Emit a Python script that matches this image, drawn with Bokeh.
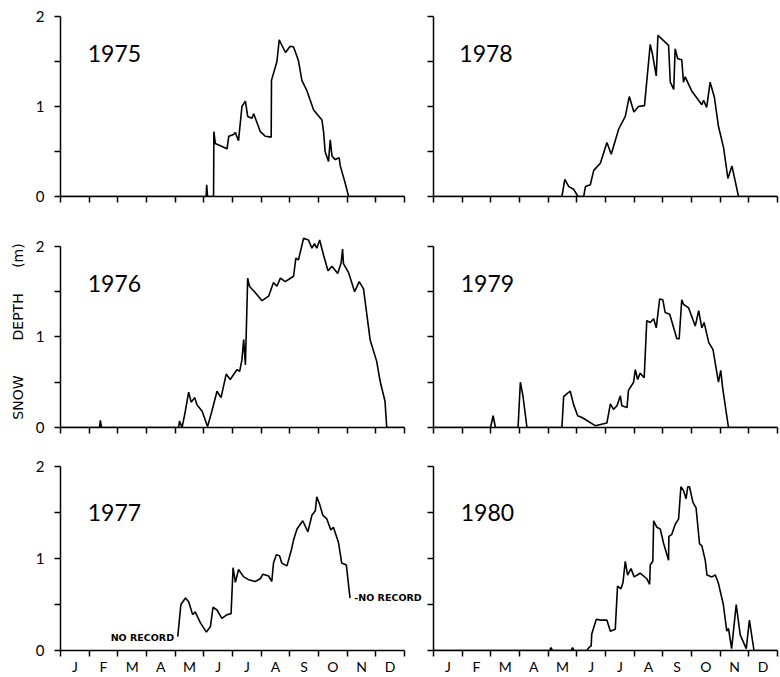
from bokeh.plotting import figure
from bokeh.layouts import column, row
from bokeh.models import Range1d, FixedTicker, CustomJSTickFormatter, Label, LinearAxis
from bokeh.embed import file_html
from bokeh.resources import INLINE

# ---------------- data ----------------
month_labels = ["J", "F", "M", "A", "M", "J", "J", "A", "S", "O", "N", "D"]
month_edges = list(range(13))
month_centres = [i + 0.5 for i in range(12)]
depth_ticks = [0, 1, 2]
depth_all_ticks = [0, 0.5, 1, 1.5, 2]
y_label = "SNOW\u2003\u2003\u2002DEPTH\u2003\u2002 (m)"
no_record = "NO RECORD"

years = ["1975", "1976", "1977", "1978", "1979", "1980"]

# (month, snow depth m) pairs, month counted from 1 January
snow_1975 = [(0, 0), (5.08, 0), (5.10, 0.13), (5.13, 0), (5.34, 0), (5.35, 0.72), (5.40, 0.59),
             (5.81, 0.53), (5.87, 0.67), (6.04, 0.69), (6.10, 0.71), (6.21, 0.62), (6.33, 1.0),
             (6.45, 1.06), (6.53, 0.89), (6.68, 0.87), (6.74, 0.92), (6.97, 0.72), (7.14, 0.67),
             (7.35, 0.66), (7.36, 1.29), (7.55, 1.5), (7.63, 1.74), (7.69, 1.70), (7.85, 1.60),
             (8.01, 1.67), (8.13, 1.66), (8.30, 1.51), (8.42, 1.29), (8.59, 1.18), (8.83, 0.96),
             (9.12, 0.85), (9.18, 0.71), (9.23, 0.50), (9.35, 0.39), (9.41, 0.63), (9.47, 0.45),
             (9.58, 0.41), (9.72, 0.43), (9.76, 0.34), (9.93, 0.15), (10.05, 0), (12, 0)]

snow_1976 = [(0, 0), (1.36, 0), (1.39, 0.08), (1.43, 0), (4.12, 0), (4.15, 0.07), (4.24, 0),
             (4.33, 0.14), (4.47, 0.39), (4.56, 0.28), (4.68, 0.33), (4.76, 0.25), (4.94, 0.18),
             (5.13, 0.01), (5.28, 0.18), (5.46, 0.40), (5.60, 0.33), (5.78, 0.59), (5.92, 0.53),
             (6.16, 0.64), (6.25, 0.62), (6.33, 0.75), (6.39, 0.97), (6.45, 0.69), (6.53, 1.65),
             (6.59, 1.56), (6.79, 1.49), (7.03, 1.40), (7.26, 1.45), (7.43, 1.60), (7.55, 1.56),
             (7.67, 1.65), (7.84, 1.61), (8.13, 1.67), (8.21, 1.87), (8.30, 1.85), (8.48, 2.09),
             (8.65, 2.07), (8.77, 1.98), (8.86, 2.03), (8.94, 1.98), (9.04, 2.07), (9.18, 1.90),
             (9.33, 1.73), (9.47, 1.78), (9.67, 1.70), (9.79, 1.82), (9.84, 1.97), (9.87, 1.81),
             (10.05, 1.71), (10.26, 1.50), (10.42, 1.61), (10.57, 1.53), (10.80, 0.97),
             (11.03, 0.73), (11.15, 0.51), (11.32, 0.29), (11.38, 0), (12, 0)]

snow_1977 = [(4.09, 0.15), (4.20, 0.50), (4.36, 0.57), (4.47, 0.53), (4.61, 0.39), (4.70, 0.42),
             (4.88, 0.30), (5.09, 0.20), (5.23, 0.26), (5.32, 0.47), (5.46, 0.44), (5.63, 0.35),
             (5.81, 0.39), (5.95, 0.40), (6.02, 0.90), (6.10, 0.74), (6.21, 0.88), (6.39, 0.80),
             (6.56, 0.77), (6.79, 0.75), (6.97, 0.78), (7.06, 0.83), (7.26, 0.81), (7.37, 0.75),
             (7.43, 0.95), (7.53, 1.04), (7.64, 1.03), (7.72, 0.95), (7.90, 0.92), (8.05, 1.09),
             (8.13, 1.20), (8.25, 1.32), (8.45, 1.41), (8.63, 1.29), (8.77, 1.47), (8.89, 1.52),
             (8.94, 1.67), (9.04, 1.59), (9.15, 1.47), (9.29, 1.43), (9.43, 1.31), (9.52, 1.34),
             (9.70, 1.17), (9.81, 0.95), (9.97, 0.93), (10.10, 0.57)]

snow_1978 = [(0, 0), (4.48, 0), (4.58, 0.19), (4.72, 0.11), (4.89, 0.08), (5.04, 0), (5.24, 0),
             (5.30, 0.11), (5.47, 0.13), (5.59, 0.29), (5.82, 0.37), (6.05, 0.60), (6.20, 0.47),
             (6.46, 0.75), (6.69, 0.89), (6.83, 1.11), (6.99, 0.94), (7.15, 1.00), (7.36, 1.01),
             (7.56, 1.69), (7.64, 1.58), (7.77, 1.34), (7.83, 1.79), (8.20, 1.68), (8.26, 1.27),
             (8.38, 1.19), (8.43, 1.64), (8.52, 1.53), (8.66, 1.52), (8.72, 1.27), (8.78, 1.33),
             (9.01, 1.17), (9.13, 1.12), (9.36, 1.02), (9.42, 1.07), (9.53, 0.99), (9.65, 1.27),
             (9.80, 1.10), (9.94, 0.78), (10.12, 0.54), (10.27, 0.20), (10.41, 0.34),
             (10.64, 0), (12, 0)]

snow_1979 = [(0, 0), (1.99, 0), (2.08, 0.13), (2.16, 0), (2.95, 0), (3.03, 0.50), (3.12, 0.35),
             (3.26, 0), (4.48, 0), (4.54, 0.34), (4.68, 0.38), (4.77, 0.40), (4.89, 0.25),
             (5.03, 0.13), (5.18, 0.11), (5.64, 0.02), (6.05, 0.05), (6.17, 0.26), (6.28, 0.20),
             (6.40, 0.24), (6.52, 0.35), (6.57, 0.24), (6.75, 0.22), (6.80, 0.41), (6.98, 0.50),
             (7.04, 0.64), (7.12, 0.53), (7.21, 0.60), (7.35, 0.55), (7.44, 1.18), (7.56, 1.16),
             (7.68, 1.20), (7.77, 1.10), (7.89, 1.42), (8.00, 1.41), (8.08, 1.27), (8.24, 1.25),
             (8.49, 0.98), (8.57, 0.98), (8.66, 1.41), (8.72, 1.36), (8.90, 1.32), (9.13, 1.12),
             (9.25, 1.29), (9.36, 1.10), (9.44, 1.16), (9.60, 0.94), (9.75, 0.86), (9.94, 0.50),
             (10.02, 0.63), (10.09, 0.43), (10.29, 0), (12, 0)]

snow_1980 = [(0, 0), (4.05, 0), (4.10, 0.03), (4.15, 0), (4.80, 0), (4.85, 0.03), (4.90, 0),
             (5.35, 0), (5.42, 0.03), (5.50, 0.05), (5.52, 0.18), (5.68, 0.34), (5.82, 0.33),
             (6.05, 0.33), (6.17, 0.21), (6.34, 0.23), (6.42, 0.70), (6.54, 0.67), (6.61, 0.74),
             (6.69, 0.97), (6.77, 0.82), (6.89, 0.89), (7.00, 0.80), (7.21, 0.84), (7.44, 0.78),
             (7.54, 0.72), (7.56, 0.93), (7.65, 0.97), (7.68, 1.41), (7.79, 1.34), (7.91, 1.32),
             (8.03, 1.16), (8.20, 0.98), (8.21, 1.24), (8.31, 1.26), (8.43, 1.37), (8.55, 1.43),
             (8.63, 1.78), (8.72, 1.74), (8.81, 1.65), (8.87, 1.78), (8.93, 1.78), (9.05, 1.61),
             (9.16, 1.55), (9.28, 1.16), (9.36, 1.14), (9.48, 0.98), (9.54, 0.82), (9.71, 0.80),
             (9.83, 0.82), (9.94, 0.73), (10.11, 0.50), (10.23, 0.21), (10.29, 0.24),
             (10.40, 0.02), (10.56, 0.50), (10.70, 0.17), (10.91, 0.02), (11.02, 0.33),
             (11.18, 0), (12, 0)]

series = {"1975": snow_1975, "1976": snow_1976, "1977": snow_1977,
          "1978": snow_1978, "1979": snow_1979, "1980": snow_1980}

# ---------------- layout ----------------
FONT = "Lato"
# column: (left border, frame width, right border, x max)
COL_SPECS = [(60, 366, 0, 12 * 366 / 344), (7, 344, 2, 12.0)]
# row: (top border, frame height, bottom border, y max)
ROW_SPECS = [(16, 180, 25, 2.0), (14, 192, 25, 2.12), (14, 188, 23, 2.0)]

EMPTY = "return '';"


def style_ticks(ax):
    ax.axis_line_width = 1.5
    ax.axis_line_color = "black"
    ax.minor_tick_line_color = None
    ax.major_tick_line_color = "black"
    ax.major_tick_out = 6
    ax.major_tick_in = 0
    ax.major_tick_line_width = 1.5


def make_panel(year, col, r):
    top, fh, bottom, ymax = ROW_SPECS[r]
    bl, fw, br, xmax = COL_SPECS[col]
    p = figure(width=bl + fw + br, height=top + fh + bottom,
               x_range=Range1d(0, xmax), y_range=Range1d(0, ymax),
               output_backend="svg", toolbar_location=None, tools="",
               min_border_left=bl, min_border_right=br,
               min_border_top=top, min_border_bottom=bottom)
    p.outline_line_color = None
    p.xgrid.visible = False
    p.ygrid.visible = False
    p.background_fill_color = "white"
    p.border_fill_color = "white"

    pts = series[year]
    xs = [a for a, _ in pts]
    ys = [b for _, b in pts]
    p.line(xs, ys, line_color="black", line_width=1.6)

    # y axis: ticks every 0.5 m, labels on the left column only
    ya = p.yaxis[0]
    ya.bounds = (0, 2)
    style_ticks(ya)
    ya.ticker = FixedTicker(ticks=depth_all_ticks)
    if col == 0:
        ya.formatter = CustomJSTickFormatter(
            args=dict(labelled=depth_ticks),
            code="return labelled.includes(tick) ? String(tick) : '';")
        ya.major_label_text_font = FONT
        ya.major_label_text_font_size = "15px"
        ya.major_label_text_color = "black"
        ya.major_label_standoff = 10
    else:
        ya.formatter = CustomJSTickFormatter(code=EMPTY)
        ya.major_label_text_font_size = "1px"
        ya.major_label_standoff = 0
    if col == 0 and r == 1:
        ya.axis_label = y_label
        ya.axis_label_text_font = "DejaVu Sans"
        ya.axis_label_text_font_size = "14px"
        ya.axis_label_text_font_style = "normal"
        ya.axis_label_text_color = "black"
        ya.axis_label_standoff = 7

    # x axis: tick marks at month boundaries
    xa = p.xaxis[0]
    xa.bounds = (0, 12)
    style_ticks(xa)
    xa.ticker = FixedTicker(ticks=month_edges)
    xa.formatter = CustomJSTickFormatter(code=EMPTY)
    xa.major_label_text_font_size = "1px"
    xa.major_label_standoff = 0

    if r == 2:
        # month initials centred between the boundary ticks
        lab = LinearAxis(ticker=FixedTicker(ticks=month_centres),
                         formatter=CustomJSTickFormatter(args=dict(labels=month_labels),
                                                         code="return labels[Math.floor(tick)];"),
                         axis_line_color=None, major_tick_line_color=None,
                         minor_tick_line_color=None, major_tick_out=0, major_tick_in=0,
                         major_label_text_font=FONT, major_label_text_font_size="14px",
                         major_label_text_color="black", major_label_standoff=1)
        p.add_layout(lab, "below")

    # year label
    p.add_layout(Label(x=0.9 if (col == 1 and r == 0) else 0.95,
                       y=1.5 if r == 2 else 1.59,
                       text=year, text_font=FONT, text_font_size="23px",
                       text_color="black", text_baseline="alphabetic", text_align="left"))
    return p


order = [["1975", "1978"], ["1976", "1979"], ["1977", "1980"]]
figs = [[make_panel(order[r][c], c, r) for c in range(2)] for r in range(3)]

# "no record" notes on 1977
p77 = figs[2][0]
p77.add_layout(Label(x=3.96, y=0.14, text=no_record, text_font="DejaVu Sans",
                     text_font_size="9.5px", text_font_style="bold", text_color="black",
                     text_align="right", text_baseline="middle"))
p77.add_layout(Label(x=10.25, y=0.58, text="-" + no_record, text_font="DejaVu Sans",
                     text_font_size="9.5px", text_font_style="bold", text_color="black",
                     text_align="left", text_baseline="middle"))

layout = column(*[row(*rf, spacing=0) for rf in figs], spacing=0)

open("out.html", "w").write(file_html(layout, INLINE))
